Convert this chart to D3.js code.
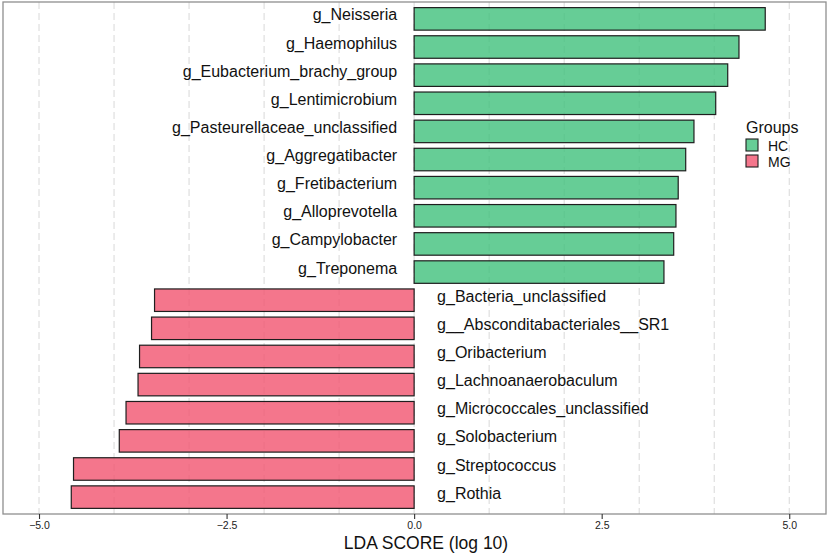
<!DOCTYPE html>
<html>
<head>
<meta charset="utf-8">
<script src="https://cdn.jsdelivr.net/npm/d3@7"></script>
<style>
  body { margin: 0; background: #fff; }
  text { font-family: "Liberation Sans", Arial, sans-serif; }
</style>
</head>
<body>
<svg width="829" height="556"></svg>
<script>
const svg = d3.select("svg");

// DATA
const genera = [
  "g_Neisseria", "g_Haemophilus", "g_Eubacterium_brachy_group", "g_Lentimicrobium",
  "g_Pasteurellaceae_unclassified", "g_Aggregatibacter", "g_Fretibacterium",
  "g_Alloprevotella", "g_Campylobacter", "g_Treponema",
  "g_Bacteria_unclassified", "g__Absconditabacteriales__SR1", "g_Oribacterium",
  "g_Lachnoanaerobaculum", "g_Micrococcales_unclassified", "g_Solobacterium",
  "g_Streptococcus", "g_Rothia"
];
const ldaScores = [
  4.68, 4.33, 4.18, 4.02, 3.73, 3.62, 3.52, 3.49, 3.46, 3.33,
  -3.46, -3.50, -3.66, -3.68, -3.84, -3.93, -4.54, -4.57
];
const groupNames = ["HC", "MG"];
const xTicks = [-5, -2.5, 0, 2.5, 5];
const gridValues = [-5, -4, -3, -2, -1, 0, 1, 2, 3, 4, 5];

const data = genera.map((g, i) => ({ name: g, score: ldaScores[i], group: ldaScores[i] > 0 ? "HC" : "MG" }));

// CONSTANTS
const panel = { left: 3, right: 826, top: 2, bottom: 514 };

// SCALES
const xScale = d3.scaleLinear().domain([-5.48, 5.49]).range([panel.left, panel.right]);
const yScale = d3.scaleBand().domain(genera).range([panel.top, panel.bottom]).padding(0.2);
const colour = d3.scaleOrdinal().domain(groupNames).range(["rgb(64,192,124)", "rgb(241,84,111)"]);

// gridlines (under the semi-transparent bars)
svg.append("g")
  .selectAll("line")
  .data(gridValues)
  .join("line")
  .attr("x1", d => xScale(d)).attr("x2", d => xScale(d))
  .attr("y1", panel.top).attr("y2", panel.bottom)
  .attr("stroke", "#d8d8d8")
  .attr("stroke-width", 1)
  .attr("stroke-dasharray", "7,4");

// bars + labels, one g per genus
const rows = svg.append("g").selectAll("g").data(data).join("g")
  .attr("transform", d => `translate(0, ${yScale(d.name)})`);

rows.append("rect")
  .attr("x", d => xScale(Math.min(0, d.score)))
  .attr("width", d => Math.abs(xScale(d.score) - xScale(0)))
  .attr("height", yScale.bandwidth())
  .attr("fill", d => colour(d.group))
  .attr("fill-opacity", 0.8)
  .attr("stroke", "#1e1e1e")
  .attr("stroke-width", 1.2);

rows.append("text")
  .attr("x", d => d.score > 0 ? xScale(0) - 17 : xScale(0) + 23)
  .attr("y", yScale.bandwidth() / 2 + 1.5)
  .attr("text-anchor", d => d.score > 0 ? "end" : "start")
  .attr("font-size", "16px")
  .attr("fill", "#111")
  .text(d => d.name);

// panel border
svg.append("rect")
  .attr("x", panel.left).attr("y", panel.top)
  .attr("width", panel.right - panel.left)
  .attr("height", panel.bottom - panel.top)
  .attr("fill", "none")
  .attr("stroke", "#8f8f8f")
  .attr("stroke-width", 1.3);

// x axis
const xAxis = svg.append("g")
  .attr("transform", `translate(0, ${panel.bottom})`)
  .call(d3.axisBottom(xScale).tickValues(xTicks).tickFormat(d3.format(".1f")).tickSize(5));
xAxis.select(".domain").remove();
xAxis.selectAll(".tick line").attr("stroke", "#333").attr("stroke-width", 1.1);
xAxis.selectAll(".tick text")
  .attr("font-size", "10.5px")
  .attr("font-family", "Liberation Sans, Arial, sans-serif")
  .attr("fill", "#222");

svg.append("text")
  .attr("x", 426)
  .attr("y", 549)
  .attr("text-anchor", "middle")
  .attr("font-size", "17.5px")
  .attr("fill", "#111")
  .text("LDA SCORE (log 10)");

// legend
const legend = svg.append("g").attr("transform", "translate(746, 0)");
legend.append("text")
  .attr("x", 0).attr("y", 133)
  .attr("font-size", "16px")
  .attr("fill", "#111")
  .text("Groups");
const keys = legend.selectAll("g.key").data(groupNames).join("g")
  .attr("class", "key")
  .attr("transform", (d, i) => `translate(0, ${139 + i * 16})`);
keys.append("rect")
  .attr("width", 12).attr("height", 12)
  .attr("fill", d => colour(d))
  .attr("fill-opacity", 0.8)
  .attr("stroke", "#1e1e1e")
  .attr("stroke-width", 1.1);
keys.append("text")
  .attr("x", 22).attr("y", 11.5)
  .attr("font-size", "14px")
  .attr("fill", "#111")
  .text(d => d);
</script>
</body>
</html>
